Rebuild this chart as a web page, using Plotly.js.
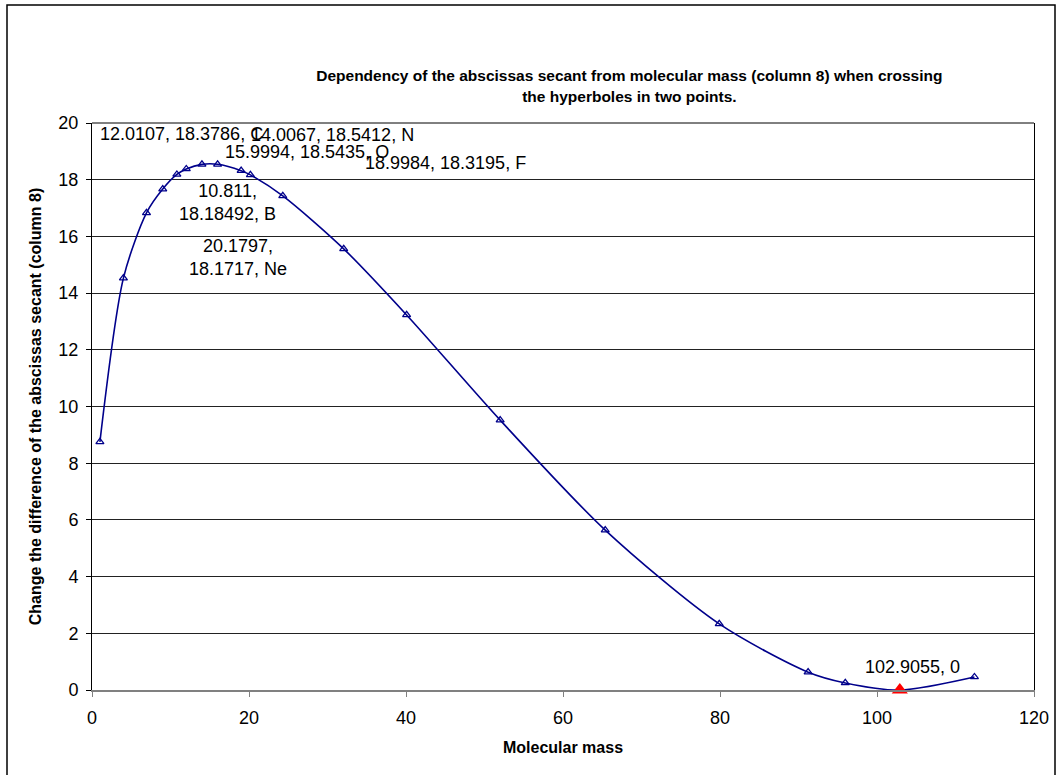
<!DOCTYPE html>
<html>
<head>
<meta charset="utf-8">
<script src="https://cdn.plot.ly/plotly-3.0.1.min.js"></script>
<style>html,body{margin:0;padding:0;background:#fff;}#chart{width:1056px;height:775px;}</style>
</head>
<body>
<div id="chart"></div>
<script>
// Molecular mass (x) and change of difference of abscissas secant (y)
const elements = ["H","He","Li","Be","B","C","N","O","F","Ne","Mg","S","Ca","Cr","Zn","Br","Zr","Mo","Rh","Cd"];
const molecularMass = [1.00794, 4.002602, 6.941, 9.012182, 10.811, 12.0107, 14.0067, 15.9994, 18.9984, 20.1797, 24.305, 32.065, 40.078, 51.9961, 65.38, 79.904, 91.224, 95.96, 102.9055, 112.411];
const secantDiff = [8.75, 14.53, 16.83, 17.67, 18.18492, 18.3786, 18.5412, 18.5435, 18.3195, 18.1717, 17.43, 15.56, 13.23, 9.52, 5.64, 2.33, 0.63, 0.25, 0, 0.46];

const labelledElements = ["C","N","O","F","B","Ne","Rh"];
const highlightElement = "Rh";

const xTickVals = [0,20,40,60,80,100,120];
const yTickVals = [0,2,4,6,8,10,12,14,16,18,20];

const titleText = "Dependency of the abscissas secant from molecular mass (column 8) when crossing<br>the hyperboles in two points.";
const xTitle = "Molecular mass";
const yTitle = "Change the difference of the abscissas secant (column 8)";

// label placement (pixel shifts, styling only)
const labelShift = {
  C:{dx:-5,dy:35,br:false},
  N:{dx:131,dy:29,br:false},
  O:{dx:89,dy:12,br:false},
  F:{dx:204,dy:8,br:false},
  B:{dx:51,dy:-28,br:true},
  Ne:{dx:-12,dy:-83,br:true},
  Rh:{dx:13,dy:23,br:false,noname:true}
};

const hi = elements.indexOf(highlightElement);

const traces = [
  {
    x: molecularMass, y: secantDiff, type:'scatter', mode:'lines+markers',
    line:{color:'#00008B', width:1.6, shape:'spline', smoothing:0.8},
    marker:{symbol:'triangle-up-open', size:7, color:'#00008B', line:{width:1.3, color:'#00008B'}},
    hoverinfo:'x+y'
  },
  {
    x: [molecularMass[hi]], y: [secantDiff[hi]], type:'scatter', mode:'markers',
    marker:{symbol:'triangle-up', size:14, color:'#FF0000'},
    cliponaxis:false
  }
];

const annotations = labelledElements.map(el => {
  const i = elements.indexOf(el);
  const s = labelShift[el];
  let text;
  if (s.noname) text = molecularMass[i] + ", " + secantDiff[i];
  else if (s.br) text = molecularMass[i] + ",<br>" + secantDiff[i] + ", " + el;
  else text = molecularMass[i] + ", " + secantDiff[i] + ", " + el;
  return {
    x: molecularMass[i], y: secantDiff[i], xref:'x', yref:'y',
    text: text, showarrow:false, xanchor:'center', yanchor:'middle',
    xshift:s.dx, yshift:s.dy,
    font:{family:'Liberation Sans, Arial, sans-serif', size:18, color:'#000'}
  };
});

const layout = {
  width:1056, height:775,
  margin:{l:92, r:22, t:123, b:85},
  paper_bgcolor:'#fff', plot_bgcolor:'#fff',
  showlegend:false,
  font:{family:'Liberation Sans, Arial, sans-serif', size:18, color:'#000'},
  title:{
    text:titleText, xref:'container', x:0.596, xanchor:'center',
    yref:'container', y:0.895, yanchor:'middle',
    font:{family:'Liberation Sans, Arial, sans-serif', size:15.5, color:'#000', weight:'bold'}
  },
  xaxis:{
    range:[0,120], tickvals:xTickVals, ticktext:xTickVals.map(String),
    showgrid:false, zeroline:false,
    showline:true, linecolor:'#808080', linewidth:1.5,
    ticks:'outside', ticklen:5, tickcolor:'#808080', tickwidth:1,
    ticklabelstandoff:6,
    tickfont:{size:18},
    title:{text:xTitle, standoff:14, font:{size:16, weight:'bold'}}
  },
  yaxis:{
    range:[0,20], tickvals:yTickVals, ticktext:yTickVals.map(String),
    showgrid:true, gridcolor:'#222', gridwidth:1, zeroline:false,
    showline:true, linecolor:'#000', linewidth:1, mirror:true,
    ticks:'outside', ticklen:5, tickcolor:'#000', tickwidth:1,
    ticklabelstandoff:4,
    tickfont:{size:18},
    title:{text:yTitle, standoff:12, font:{size:16, weight:'bold'}}
  },
  shapes:[
    {type:'line', xref:'paper', yref:'paper', x0:0, x1:1, y0:1, y1:1, line:{color:'#000', width:1}},
    {type:'rect', xref:'paper', yref:'paper', x0:(7-92)/942, x1:(1055-92)/942, y0:(690-790)/567, y1:(690-5)/567, line:{color:'#000', width:1.5}, fillcolor:'rgba(0,0,0,0)', layer:'below'}
  ],
  annotations: annotations
};

Plotly.newPlot('chart', traces, layout, {displayModeBar:false, staticPlot:true});
</script>
</body>
</html>
